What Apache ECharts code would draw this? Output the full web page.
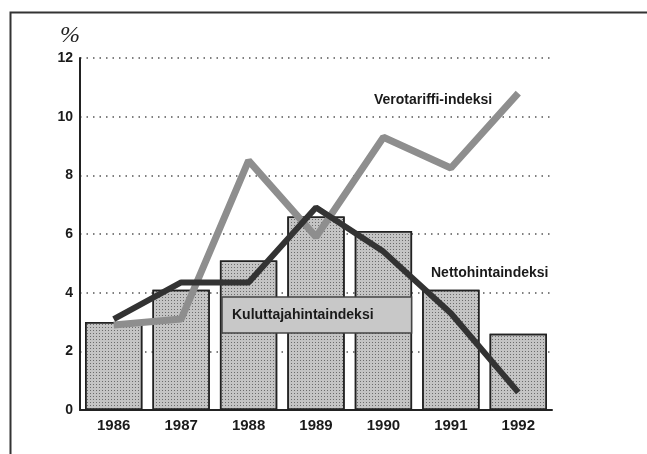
<!DOCTYPE html>
<html>
<head>
<meta charset="utf-8">
<script src="https://cdn.jsdelivr.net/npm/echarts@6/dist/echarts.min.js"></script>
<style>
html, body { margin: 0; padding: 0; background: #fff; }
#chart { width: 647px; height: 454px; }
</style>
</head>
<body>
<div id="chart"></div>
<script>
var years = ['1986', '1987', '1988', '1989', '1990', '1991', '1992'];
var kuluttaja = [3.0, 4.1, 5.1, 6.6, 6.1, 4.1, 2.6];
var netto = [3.1, 4.35, 4.35, 6.9, 5.4, 3.3, 0.6];
var verotariffi = [2.9, 3.1, 8.5, 5.9, 9.3, 8.25, 10.8];

var dom = document.getElementById('chart');
var myChart = echarts.init(dom);
var font = 'Liberation Sans';

var option = {
    backgroundColor: '#fff',
    animation: false,
    aria: { enabled: false },
    grid: { left: 80, right: 95, top: 58, bottom: 44 },
    legend: {
        data: ['Kuluttajahintaindeksi'],
        left: 222,
        top: 297,
        icon: 'none',
        itemWidth: 0,
        itemGap: 0,
        padding: [11, 38, 11, 5],
        backgroundColor: '#c8c8c8',
        borderColor: '#444',
        borderWidth: 1.5,
        textStyle: { fontFamily: font, fontWeight: 'bold', fontSize: 14, color: '#1a1a1a' },
        selectedMode: false
    },
    xAxis: {
        type: 'category',
        data: years,
        axisLine: { lineStyle: { color: '#222', width: 2 } },
        axisTick: { show: false },
        axisLabel: { fontFamily: font, fontWeight: 'bold', fontSize: 15, color: '#1a1a1a', margin: 8 },
        splitLine: { show: false }
    },
    yAxis: {
        type: 'value',
        min: 0,
        max: 12,
        interval: 2,
        axisLine: { show: true, lineStyle: { color: '#222', width: 2 } },
        axisTick: { show: false },
        axisLabel: { fontFamily: font, fontWeight: 'bold', fontSize: 14, color: '#1a1a1a', margin: 7 },
        splitLine: { show: true, lineStyle: { color: '#555', type: [1.5, 5], width: 1.5 } }
    },
    series: [
        {
            name: 'Kuluttajahintaindeksi',
            type: 'bar',
            data: kuluttaja,
            barCategoryGap: '15%',
            itemStyle: {
                color: '#c4c4c4',
                borderColor: '#222',
                borderWidth: 1.5,
                decal: {
                    symbol: 'rect',
                    symbolSize: 1,
                    dashArrayX: [1, 2],
                    dashArrayY: [1, 2],
                    color: 'rgba(50,50,50,0.6)'
                }
            },
            z: 1
        },
        {
            name: 'Verotariffi-indeksi',
            type: 'line',
            data: verotariffi,
            symbol: 'none',
            lineStyle: { color: '#8e8e8e', width: 7 },
            z: 3
        },
        {
            name: 'Nettohintaindeksi',
            type: 'line',
            data: netto,
            symbol: 'none',
            lineStyle: { color: '#333', width: 6 },
            z: 4
        }
    ],
    graphic: [
        {
            type: 'rect',
            left: 8, top: 10,
            shape: { width: 700, height: 500 },
            style: { fill: 'none', stroke: '#333', lineWidth: 2 },
            silent: true
        },
        {
            type: 'text',
            left: 60, top: 24,
            style: { text: '%', font: 'italic 24px "Liberation Serif"', fill: '#222' }
        },
        {
            type: 'text',
            left: 374, top: 93,
            style: { text: 'Verotariffi-indeksi', font: 'bold 14px "Liberation Sans"', fill: '#1a1a1a' }
        },
        {
            type: 'text',
            left: 431, top: 266,
            style: { text: 'Nettohintaindeksi', font: 'bold 14px "Liberation Sans"', fill: '#1a1a1a' }
        }
    ]
};

myChart.setOption(option);
</script>
</body>
</html>
